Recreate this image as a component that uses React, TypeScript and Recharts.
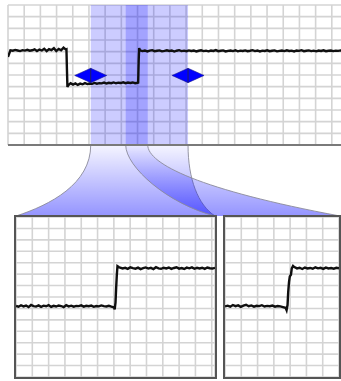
import React from 'react';
import {
  ComposedChart,
  LineChart,
  Line,
  XAxis,
  YAxis,
  CartesianGrid,
  ReferenceArea,
  ReferenceDot,
  ReferenceLine,
} from 'recharts';

// ---------- axis ticks (grid divisions) ----------
const TOP_X_TICKS = [0, 1, 2, 3, 4, 5, 6, 7, 8, 9, 10, 11, 12, 13, 14, 15, 16, 17, 18, 19, 20, 21];
const TOP_Y_TICKS = [0, 1, 2, 3, 4, 5, 6, 7, 8, 9, 10, 11, 12];
const LEFT_X_TICKS = [0, 1, 2, 3, 4, 5, 6, 7, 8, 9, 10, 11, 12];
const RIGHT_X_TICKS = [0, 1, 2, 3, 4, 5, 6, 7];
const PANEL_Y_TICKS = [0, 1, 2, 3, 4, 5, 6, 7, 8, 9, 10, 11, 12, 13, 14];

// ---------- zoom selections (in top-chart time units) ----------
const WIDE_BAND = [5.11, 11.12];
const NARROW_BAND = [7.27, 8.63];
const HANDLES = [
  { t: 5.11, v: 5.96 },
  { t: 11.12, v: 5.96 },
];

// ---------- top trace ----------
const TOP_HIGH_1 = [7.55, 8.12, 8.08, 8.15, 8.1, 8.05, 8.13, 8.09, 8.16, 8.08, 8.12, 8.2, 8.06, 8.18, 8.1, 8.25, 8.04, 8.22, 8.14, 8.3, 8.05, 8.24, 8.12, 8.35, 8.18];
const TOP_FALL = [
  { t: 3.61, v: 8.2 },
  { t: 3.64, v: 6.5 },
  { t: 3.67, v: 4.98 },
];
const TOP_LOW = [5.12, 5.3, 5.18, 5.28, 5.15, 5.26, 5.2, 5.3, 5.22, 5.27, 5.24, 5.32, 5.25, 5.3, 5.28, 5.35, 5.27, 5.33, 5.3, 5.36, 5.29, 5.34, 5.31, 5.37, 5.3, 5.35, 5.32, 5.36, 5.3, 5.34];
const TOP_RISE = [
  { t: 8.04, v: 5.35 },
  { t: 8.07, v: 7.2 },
  { t: 8.1, v: 8.3 },
];
const TOP_HIGH_2 = [
  8.12, 8.05, 8.1, 8.02, 8.09, 8.13, 8.04, 8.08, 8.11, 8.03,
  8.07, 8.12, 8.06, 8.1, 8.01, 8.08, 8.13, 8.05, 8.09, 8.04,
  8.11, 8.06, 8.1, 8.02, 8.08, 8.12, 8.05, 8.09, 8.03, 8.1,
  8.06, 8.13, 8.04, 8.08, 8.11, 8.02, 8.07, 8.1, 8.05, 8.12,
  8.03, 8.09, 8.06, 8.11, 8.04, 8.08, 8.13, 8.05, 8.1, 8.02,
  8.09, 8.06, 8.12, 8.04, 8.08, 8.11, 8.03, 8.07, 8.1, 8.05,
  8.12, 8.06, 8.09, 8.02, 8.1, 8.07, 8.13, 8.04, 8.08, 8.11,
  8.05, 8.09, 8.03, 8.1, 8.06, 8.12, 8.04, 8.08, 8.1, 8.05,
  8.09, 8.07, 8.11, 8.04, 8.08, 8.06,
];

// ---------- left zoom panel trace ----------
const LEFT_LOW = [
  6.22, 6.15, 6.28, 6.18, 6.25, 6.12, 6.3, 6.2, 6.16, 6.27,
  6.14, 6.24, 6.19, 6.29, 6.13, 6.23, 6.17, 6.26, 6.21, 6.11,
  6.28, 6.18, 6.24, 6.15, 6.22, 6.2, 6.27, 6.16, 6.23, 6.19,
  6.25, 6.14, 6.21, 6.18, 6.26, 6.2, 6.17, 6.23, 6.15, 6.1,
];
const LEFT_STEP = [
  { t: 6.05, v: 5.92 },
  { t: 6.1, v: 6.5 },
  { t: 6.14, v: 7.8 },
  { t: 6.18, v: 8.9 },
  { t: 6.22, v: 9.7 },
  { t: 6.3, v: 9.62 },
];
const LEFT_HIGH = [
  9.58, 9.5, 9.55, 9.46, 9.6, 9.52, 9.48, 9.57, 9.44, 9.53,
  9.59, 9.49, 9.55, 9.45, 9.61, 9.51, 9.47, 9.56, 9.5, 9.58,
  9.46, 9.54, 9.6, 9.48, 9.53, 9.45, 9.57, 9.51, 9.59, 9.47,
  9.55, 9.5, 9.56, 9.46, 9.58, 9.52, 9.49, 9.55,
];

// ---------- right zoom panel trace ----------
const RIGHT_LOW = [
  6.18, 6.24, 6.15, 6.3, 6.2, 6.27, 6.14, 6.25, 6.32, 6.19,
  6.26, 6.16, 6.23, 6.2, 6.28, 6.17, 6.22, 6.19, 6.25, 6.15,
  6.21, 6.18, 6.12, 6.05,
];
const RIGHT_STEP = [
  { t: 3.78, v: 5.85 },
  { t: 3.84, v: 6.3 },
  { t: 3.88, v: 7.4 },
  { t: 3.93, v: 8.3 },
  { t: 3.98, v: 8.8 },
  { t: 4.05, v: 8.95 },
  { t: 4.1, v: 9.5 },
  { t: 4.18, v: 9.72 },
];
const RIGHT_HIGH = [
  9.62, 9.5, 9.56, 9.45, 9.58, 9.5, 9.54, 9.47, 9.6, 9.51,
  9.55, 9.46, 9.57, 9.5, 9.53, 9.48, 9.56, 9.52,
];

type Pt = { t: number; v: number };

function sampled(start: number, end: number, values: number[]): Pt[] {
  const n = values.length - 1;
  return values.map((v, i) => ({ t: start + ((end - start) * i) / n, v }));
}

const topSignal: Pt[] = [
  ...sampled(0, 3.58, TOP_HIGH_1),
  ...TOP_FALL,
  ...sampled(3.72, 8.0, TOP_LOW),
  ...TOP_RISE,
  ...sampled(8.15, 21, TOP_HIGH_2),
];
const leftSignal: Pt[] = [...sampled(0, 6.0, LEFT_LOW), ...LEFT_STEP, ...sampled(6.38, 12.2, LEFT_HIGH)];
const rightSignal: Pt[] = [...sampled(0, 3.72, RIGHT_LOW), ...RIGHT_STEP, ...sampled(4.26, 7, RIGHT_HIGH)];

const GRID = '#d4d4d4';
const TRACE = '#0f0f0f';

type Funnel = {
  id: string;
  l1: number;
  l2: [number, number];
  bl: number;
  br: number;
  yb: number;
  r1: number;
  r2: [number, number];
};

const WIDE_FUNNEL: Funnel = { id: 'gWide', l1: 39, l2: [50, 205], bl: 16, br: 215, yb: 216, r1: 34, r2: [198, 205] };
const NARROW_FUNNEL: Funnel = { id: 'gNarrow', l1: 22, l2: [168, 204], bl: 215, br: 340, yb: 216, r1: 19, r2: [200, 190] };

function BandShape(props: any) {
  const { x, y, width, height, funnel } = props as { x: number; y: number; width: number; height: number; funnel: Funnel };
  const xl = x;
  const xr = x + width;
  const yt = y + height;
  const f = funnel;
  const leftCurve = `M${xl},${yt} C${xl},${yt + f.l1} ${f.l2[0]},${f.l2[1]} ${f.bl},${f.yb}`;
  const rightCurve = `M${xr},${yt} C${xr},${yt + f.r1} ${f.r2[0]},${f.r2[1]} ${f.br},${f.yb}`;
  const fill = `${leftCurve} L${f.br},${f.yb} C${f.r2[0]},${f.r2[1]} ${xr},${yt + f.r1} ${xr},${yt} Z`;
  return (
    <g>
      <defs>
        <linearGradient id={f.id} x1="0" y1="0" x2="0" y2="1">
          <stop offset="0%" stopColor="#0000ff" stopOpacity={0.04} />
          <stop offset="100%" stopColor="#0000ff" stopOpacity={0.42} />
        </linearGradient>
      </defs>
      <rect x={x} y={y} width={width} height={height} fill="#0000ff" fillOpacity={0.2} />
      <path d={fill} fill={`url(#${f.id})`} stroke="none" />
      <path d={leftCurve} fill="none" stroke="#8a8a9a" strokeWidth={0.9} />
      <path d={rightCurve} fill="none" stroke="#8a8a9a" strokeWidth={0.9} />
    </g>
  );
}

function Handle(props: any) {
  const { cx, cy } = props;
  const w = 16;
  const h = 7.2;
  return (
    <g>
      <polygon
        points={`${cx - w},${cy} ${cx},${cy - h} ${cx + w},${cy} ${cx},${cy + h}`}
        fill="#0000ff"
        stroke="#1a1a8c"
        strokeWidth={0.6}
      />
      <line x1={cx} y1={cy - h} x2={cx} y2={cy + h} stroke="#202060" strokeWidth={1} />
    </g>
  );
}

function ZoomPanel({ data, width, ticks, xMax }: { data: Pt[]; width: number; ticks: number[]; xMax: number }) {
  return (
    <LineChart width={width} height={160} data={data} margin={{ top: 0, right: 0, bottom: 0, left: 0 }}>
      <XAxis type="number" dataKey="t" domain={[0, xMax]} ticks={ticks} interval={0} hide allowDataOverflow />
      <YAxis type="number" domain={[0, 14]} ticks={PANEL_Y_TICKS} interval={0} hide allowDataOverflow />
      <CartesianGrid stroke={GRID} strokeWidth={1.6} />
      <Line
        type="linear"
        dataKey="v"
        stroke={TRACE}
        strokeWidth={2.4}
        dot={false}
        isAnimationActive={false}
      />
    </LineChart>
  );
}

export default function App() {
  return (
    <div
      style={{
        position: 'absolute',
        left: 0,
        top: 0,
        width: 341,
        height: 381,
        overflow: 'hidden',
        background: '#fff',
      }}
    >
      <div style={{ position: 'absolute', left: 0, top: 0 }}>
        <ComposedChart width={360} height={225} data={topSignal} margin={{ top: 5, right: 12, bottom: 80, left: 8 }}>
          <XAxis type="number" dataKey="t" domain={[0, 21]} ticks={TOP_X_TICKS} interval={0} hide allowDataOverflow />
          <YAxis type="number" domain={[0, 12]} ticks={TOP_Y_TICKS} interval={0} hide allowDataOverflow />
          <CartesianGrid stroke={GRID} strokeWidth={1.6} />
          <ReferenceArea
            x1={WIDE_BAND[0]}
            x2={WIDE_BAND[1]}
            y1={0}
            y2={12}
            ifOverflow="visible"
            shape={(p: any) => <BandShape {...p} funnel={WIDE_FUNNEL} />}
          />
          <ReferenceArea
            x1={NARROW_BAND[0]}
            x2={NARROW_BAND[1]}
            y1={0}
            y2={12}
            ifOverflow="visible"
            shape={(p: any) => <BandShape {...p} funnel={NARROW_FUNNEL} />}
          />
          <ReferenceLine y={0} stroke="#7a7a7a" strokeWidth={2} ifOverflow="visible" />
          <Line type="linear" dataKey="v" stroke={TRACE} strokeWidth={2.4} dot={false} isAnimationActive={false} />
          {HANDLES.map((h, i) => (
            <ReferenceDot key={i} x={h.t} y={h.v} r={8} ifOverflow="visible" shape={(p: any) => <Handle {...p} />} />
          ))}
        </ComposedChart>
      </div>
      <div
        style={{
          position: 'absolute',
          left: 14,
          top: 215,
          width: 199,
          height: 160,
          border: '2px solid #555',
          background: '#fff',
          lineHeight: 0,
        }}
      >
        <ZoomPanel data={leftSignal} width={199} ticks={LEFT_X_TICKS} xMax={12.2} />
      </div>
      <div
        style={{
          position: 'absolute',
          left: 223,
          top: 215,
          width: 114,
          height: 160,
          border: '2px solid #555',
          background: '#fff',
          lineHeight: 0,
        }}
      >
        <ZoomPanel data={rightSignal} width={114} ticks={RIGHT_X_TICKS} xMax={7} />
      </div>
    </div>
  );
}
